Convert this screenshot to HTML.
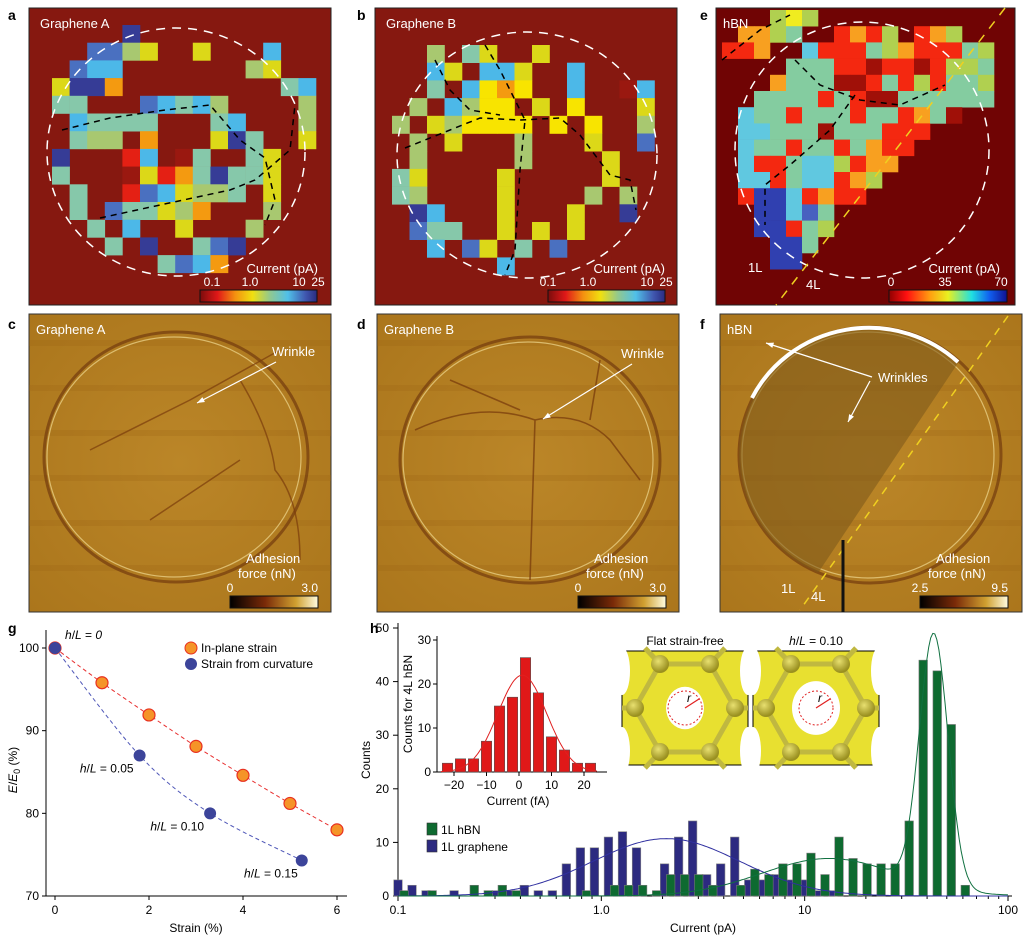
<!DOCTYPE html>
<html><head><meta charset="utf-8"><style>
html,body{margin:0;padding:0;background:#fff;}
svg{display:block;font-family:"Liberation Sans",Arial,sans-serif;}
</style></head><body>
<svg id="fig" width="1028" height="938" viewBox="0 0 1028 938">
<defs>
<linearGradient id="cbA" x1="0" x2="1"><stop offset="0" stop-color="#7a0c0c"/><stop offset="0.15" stop-color="#e01818"/><stop offset="0.3" stop-color="#f49010"/><stop offset="0.45" stop-color="#f0e010"/><stop offset="0.6" stop-color="#90c890"/><stop offset="0.75" stop-color="#50c0e8"/><stop offset="0.9" stop-color="#4058b0"/><stop offset="1" stop-color="#2a2a80"/></linearGradient>
<linearGradient id="cbE" x1="0" x2="1"><stop offset="0" stop-color="#900000"/><stop offset="0.15" stop-color="#ff1010"/><stop offset="0.35" stop-color="#ffa010"/><stop offset="0.5" stop-color="#e8f020"/><stop offset="0.7" stop-color="#20e0e0"/><stop offset="0.85" stop-color="#1060f0"/><stop offset="1" stop-color="#101090"/></linearGradient>
<linearGradient id="cbF" x1="0" x2="1"><stop offset="0" stop-color="#000"/><stop offset="0.4" stop-color="#7a2a08"/><stop offset="0.75" stop-color="#d0a030"/><stop offset="1" stop-color="#fffce0"/></linearGradient>
<radialGradient id="afm" cx="0.5" cy="0.5" r="0.7"><stop offset="0" stop-color="#bb8628"/><stop offset="1" stop-color="#ab761c"/></radialGradient>
<radialGradient id="atom" cx="0.4" cy="0.35" r="0.6"><stop offset="0" stop-color="#e8e070"/><stop offset="1" stop-color="#9a9020"/></radialGradient>
<clipPath id="fEll"><ellipse cx="870" cy="455" rx="131" ry="128"/></clipPath>
<clipPath id="fBox"><rect x="720" y="314" width="302" height="298"/></clipPath>
</defs>
<g id="panels"></g>
<g id="gchart"></g>
<g id="hchart"></g>
</svg>
<script>
// ---------- data: panel g ----------
const gInStrain = [0, 1, 2, 3, 4, 5, 6];
const gInE = [100, 95.8, 91.9, 88.1, 84.6, 81.2, 78.0];
const gCurvStrain = [0, 1.8, 3.3, 5.25];
const gCurvE = [100, 87.0, 80.0, 74.3];
const gCurvLabels = ["h/L = 0", "h/L = 0.05", "h/L = 0.10", "h/L = 0.15"];
const gXTicks = [0, 2, 4, 6];
const gYTicks = [70, 80, 90, 100];
// ---------- data: panel h ----------
const hBinStartLog = -1.0, hBinStepLog = 0.069;
const hGraphene = [3,2,1,0,1,0,0,1,1,2,1,1,6,9,9,11,12,9,0,6,11,14,4,6,11,3,3,4,3,3,1,1,0,0,0,0,0,0,0,0,0,0,0];
const hHBN = [1,0,1,0,0,2,1,2,1,0,0,0,0,1,0,2,2,2,1,4,4,4,2,0,2,5,4,6,6,8,4,11,7,6,6,6,14,44,42,32,2,0,0];
const hXTicks = [0.1, 1, 10, 100];
const hXTickLabels = ["0.1", "1.0", "10", "100"];
const hYTicks = [0, 10, 20, 30, 40, 50];
const fitGraphene = [10.7, 0.32, 0.36];
const fitHBN = [[7.0, 1.12, 0.33], [47, 1.635, 0.07]];
// inset
const insCenters = [-22,-18,-14,-10,-6,-2,2,6,10,14,18,22];
const insCounts = [2,3,3,7,15,17,26,18,8,5,2,2];
const insFit = [22, 1, 7.5];
const insXTicks = [-20,-10,0,10,20];
const insXTickLabels = ["\u221220","\u221210","0","10","20"];
const insYTicks = [0,10,20,30];

const NS = "http://www.w3.org/2000/svg";
function mk(tag, attrs, parent, text){
  const e = document.createElementNS(NS, tag);
  for (const k in attrs) e.setAttribute(k, attrs[k]);
  if (text !== undefined) e.textContent = text;
  parent.appendChild(e); return e;
}
const P = document.getElementById('panels');

// ---------- heatmaps ----------
const cmap = {b:'#363c96', m:'#4a70c0', c:'#4cb8e8', t:'#86c8aa', l:'#a8c870', y:'#dcd818', Y:'#f8e400', o:'#f49a10', r:'#e42014', d:'#9a1810', g:'#c8d030'};
const emap = {r:'#f42810', o:'#f8a020', y:'#f0ec20', t:'#84cca0', c:'#60c8e0', b:'#3040b0', m:'#4860c0', d:'#a01008', l:'#b0d050'};
const gridA = ["....b...........","..mmly..y...c...",".mcc.......ly...","ybbo.........tc.","tt...mctcl....l.",".ctttt...tc...l.",".tll.o...ybt..y.","b...rc.dt..ty...","t...dyrotbtty...",".t..rmcyllt.y...",".t.mttylo...l...","..t.c..y...l....","...t.b..tmb.....","......tmco......"];
const gridB = ["..l.ty..y......","..cy.ccy..c....","..t.cYoY..c..dc",".l.clYY.y.Y...y","l.ylYYYY.Y.Y..l",".l.y...l...y..m",".l.....l....y..","ty....y.....y..","tl....y....l.l.",".bc...y...y..b.",".mtt..y.y.y....","..c.my.t.m.....","......c........"];
const gridE = ["...lyl............",".oolt..rorl.rol...","rro..crrrtlorrrtl.","....tttrrdrrdrllt.","...otttddrtrlrttl.","..ttttrtrddtttttt.",".cttrtttrttrotd...",".cctttdtttrrr.....",".cttrttrtorr......",".crrtcclroo.......",".ccrtccrol........",".rbbcrorr.........","..bbcmt...........","..bbrtl...........","...bbt............","...bb............."];

function heat(x, y, w, h, bg, grid, cols, map, x0, y0, cw, ch, name){
  const g = mk('g', {}, P);
  
  
  mk('rect', {x:x, y:y, width:w, height:h, fill:bg, stroke:'#222', 'stroke-width':1}, g);
  grid.forEach((row, r) => { for (let c = 0; c < row.length; c++) { const k = row[c]; if (map[k]) {
    const cell = mk('rect', {x:x0 + c*cw, y:y0 + r*ch, width:cw + 0.3, height:ch + 0.3, fill:map[k]}, g);
    
    
  }}});
  return g;
}
const ga = heat(29, 8, 302, 297, '#861810', gridA, 16, cmap, 52, 25, 17.6, 17.7, 'heatmap-graphene-a');
mk('ellipse', {cx:176, cy:152, rx:129, ry:124, fill:'none', stroke:'#fff', 'stroke-width':1.5, 'stroke-dasharray':'9 7'}, ga);
mk('polyline', {points:'62,130 110,118 165,110 210,105 240,140 265,158 275,200 265,225', fill:'none', stroke:'#000', 'stroke-width':1.5, 'stroke-dasharray':'6 5'}, ga);
mk('polyline', {points:'100,218 160,205 230,190 255,180 290,150 295,105', fill:'none', stroke:'#000', 'stroke-width':1.5, 'stroke-dasharray':'6 5'}, ga);
const gb = heat(375, 8, 302, 297, '#861810', gridB, 15, cmap, 392, 45, 17.5, 17.7, 'heatmap-graphene-b');
mk('ellipse', {cx:527, cy:155, rx:130, ry:123, fill:'none', stroke:'#fff', 'stroke-width':1.5, 'stroke-dasharray':'9 7'}, gb);
mk('polyline', {points:'485,45 500,70 515,100 525,120 520,170 515,250 505,275', fill:'none', stroke:'#000', 'stroke-width':1.5, 'stroke-dasharray':'6 5'}, gb);
mk('polyline', {points:'405,148 450,130 480,118 520,120 560,118 580,135 610,175 630,180 636,210', fill:'none', stroke:'#000', 'stroke-width':1.5, 'stroke-dasharray':'6 5'}, gb);
mk('polyline', {points:'435,60 450,90 470,110 500,115', fill:'none', stroke:'#000', 'stroke-width':1.5, 'stroke-dasharray':'6 5'}, gb);
const ge = heat(716, 8, 299, 297, '#700404', gridE, 18, emap, 722, 10, 16, 16.2, 'heatmap-hbn');
mk('ellipse', {cx:862, cy:150, rx:127, ry:128, fill:'none', stroke:'#fff', 'stroke-width':1.5, 'stroke-dasharray':'9 7'}, ge);
mk('line', {x1:1005, y1:8, x2:776, y2:305, stroke:'#f0d020', 'stroke-width':1.5, 'stroke-dasharray':'9 8'}, ge);
mk('polyline', {points:'722,60 760,30 790,15', fill:'none', stroke:'#000', 'stroke-width':1.5, 'stroke-dasharray':'6 5'}, ge);
mk('polyline', {points:'795,60 820,85 860,100 900,105 945,85', fill:'none', stroke:'#000', 'stroke-width':1.5, 'stroke-dasharray':'6 5'}, ge);
mk('polyline', {points:'855,95 830,130 790,165 765,185 765,225', fill:'none', stroke:'#000', 'stroke-width':1.5, 'stroke-dasharray':'6 5'}, ge);

function cbar(x, y, w, fill, labels, g){
  mk('rect', {x:x, y:y, width:w, height:12, fill:'url(#'+fill+')', stroke:'#111', 'stroke-width':1}, g);
  labels.forEach(l => mk('text', {x:x + l[0], y:y - 4, 'font-size':12, fill:'#fff', 'text-anchor':'middle'}, g, l[1]));
}
cbar(200, 290, 117, 'cbA', [[12,'0.1'],[50,'1.0'],[99,'10'],[118,'25']], ga);
mk('text', {x:318, y:273, 'font-size':13, fill:'#fff', 'text-anchor':'end'}, ga, 'Current (pA)');
cbar(548, 290, 117, 'cbA', [[0,'0.1'],[40,'1.0'],[99,'10'],[118,'25']], gb);
mk('text', {x:665, y:273, 'font-size':13, fill:'#fff', 'text-anchor':'end'}, gb, 'Current (pA)');
cbar(889, 290, 118, 'cbE', [[2,'0'],[56,'35'],[112,'70']], ge);
mk('text', {x:1000, y:273, 'font-size':13, fill:'#fff', 'text-anchor':'end'}, ge, 'Current (pA)');
mk('text', {x:40, y:28, 'font-size':13, fill:'#fff'}, ga, 'Graphene A');
mk('text', {x:386, y:28, 'font-size':13, fill:'#fff'}, gb, 'Graphene B');
mk('text', {x:723, y:28, 'font-size':13, fill:'#fff'}, ge, 'hBN');
mk('text', {x:748, y:272, 'font-size':13, fill:'#fff'}, ge, '1L');
mk('text', {x:806, y:289, 'font-size':13, fill:'#fff'}, ge, '4L');

// ---------- AFM panels ----------
function afm(x, ell, name, label){
  const g = mk('g', {}, P);
  
  
  mk('rect', {x:x, y:314, width:302, height:298, fill:'url(#afm)', stroke:'#333', 'stroke-width':1}, g);
  for (let i = 0; i < 6; i++) mk('rect', {x:x, y:340 + i*45, width:302, height:6, fill:'#9a6414', opacity:0.25}, g);
  mk('ellipse', {cx:ell[0], cy:ell[1], rx:ell[2], ry:ell[3], fill:'none', stroke:'#7a4210', 'stroke-width':3, opacity:0.8}, g);
  mk('ellipse', {cx:ell[0]-2, cy:ell[1], rx:ell[2]-5, ry:ell[3]-5, fill:'none', stroke:'#f0d890', 'stroke-width':1.2, opacity:0.7}, g);
  mk('text', {x:x + 7, y:334, 'font-size':13, fill:'#fff'}, g, label);
  return g;
}
const gc = afm(29, [176, 457, 132, 125], 'afm-graphene-a', 'Graphene A');
mk('path', {d:'M90,450 L190,400 L280,350 M150,520 L240,460 M240,380 Q270,430 275,470 Q300,500 300,560', fill:'none', stroke:'#7a3c0c', 'stroke-width':1.5, opacity:0.7}, gc);
const gd = afm(377, [530, 460, 130, 123], 'afm-graphene-b', 'Graphene B');
mk('path', {d:'M415,430 Q480,400 535,420 Q580,410 610,440 L640,480 M535,420 L530,580 M450,380 L520,410 M600,360 L590,420', fill:'none', stroke:'#7a3c0c', 'stroke-width':1.6, opacity:0.75}, gd);
const gf = afm(720, [870, 455, 131, 128], 'afm-hbn', 'hBN');
const fin = mk('g', {'clip-path':'url(#fEll)'}, gf);
mk('polygon', {points:'700,300 1000,300 800,600 700,600', fill:'#7e5a1a', opacity:0.6}, fin);
const fb2 = mk('g', {'clip-path':'url(#fBox)'}, gf);
mk('path', {d:'M752,398 A131,128 0 0 1 958,362', fill:'none', stroke:'#fff', 'stroke-width':4}, fb2);
mk('line', {x1:1008, y1:316, x2:800, y2:610, stroke:'#f0d020', 'stroke-width':1.5, 'stroke-dasharray':'8 7'}, fb2);
mk('line', {x1:843, y1:540, x2:843, y2:612, stroke:'#111', 'stroke-width':3}, fb2);
function arrow(g, x1, y1, x2, y2){
  mk('line', {x1:x1, y1:y1, x2:x2, y2:y2, stroke:'#fff', 'stroke-width':1.2}, g);
  const a = Math.atan2(y2-y1, x2-x1), L = 8;
  mk('polygon', {points:`${x2},${y2} ${x2-L*Math.cos(a-0.35)},${y2-L*Math.sin(a-0.35)} ${x2-L*Math.cos(a+0.35)},${y2-L*Math.sin(a+0.35)}`, fill:'#fff'}, g);
}
mk('text', {x:272, y:356, 'font-size':13, fill:'#fff'}, gc, 'Wrinkle'); arrow(gc, 276, 362, 197, 403);
mk('text', {x:621, y:358, 'font-size':13, fill:'#fff'}, gd, 'Wrinkle'); arrow(gd, 632, 364, 543, 419);
mk('text', {x:878, y:382, 'font-size':13, fill:'#fff'}, gf, 'Wrinkles');
arrow(gf, 872, 377, 766, 343); arrow(gf, 870, 381, 848, 422);
mk('text', {x:781, y:593, 'font-size':13, fill:'#fff'}, gf, '1L');
mk('text', {x:811, y:601, 'font-size':13, fill:'#fff'}, gf, '4L');
[[gc, 230], [gd, 578], [gf, 920]].forEach((p, i) => {
  const g = p[0], x = p[1];
  mk('rect', {x:x, y:596, width:88, height:12, fill:'url(#cbF)', stroke:'#111'}, g);
  mk('text', {x:x + 16, y:563, 'font-size':13, fill:'#fff'}, g, 'Adhesion');
  mk('text', {x:x + 8, y:578, 'font-size':13, fill:'#fff'}, g, 'force (nN)');
  mk('text', {x:x, y:592, 'font-size':12, fill:'#fff', 'text-anchor':'middle'}, g, i < 2 ? '0' : '2.5');
  mk('text', {x:x + 88, y:592, 'font-size':12, fill:'#fff', 'text-anchor':'end'}, g, i < 2 ? '3.0' : '9.5');
});
[['a',8,20],['b',357,20],['e',700,20],['c',8,329],['d',357,329],['f',700,329],['g',8,633],['h',370,633]].forEach(l => {
  const t = mk('text', {x:l[1], y:l[2], 'font-size':14, 'font-weight':'bold', fill:'#000'}, P, l[0]);
  
  
});

// ---------- panel g chart ----------
const G = document.getElementById('gchart');
const gx = v => 55 + (v - 0) * (337 - 55) / 6;
const gy = v => 896 - (v - 70) * (896 - 648) / 30;
mk('line', {x1:46, y1:630, x2:46, y2:896, stroke:'#000', 'stroke-width':1}, G);
mk('line', {x1:46, y1:896, x2:347, y2:896, stroke:'#000', 'stroke-width':1}, G);
gXTicks.forEach(v => { mk('line', {x1:gx(v), y1:896, x2:gx(v), y2:900, stroke:'#000'}, G);
  const t = mk('text', {x:gx(v), y:914, 'font-size':12, 'text-anchor':'middle'}, G, String(v));
    });
gYTicks.forEach(v => { mk('line', {x1:42, y1:gy(v), x2:46, y2:gy(v), stroke:'#000'}, G);
  const t = mk('text', {x:39, y:gy(v) + 4, 'font-size':12, 'text-anchor':'end'}, G, String(v));
    });
const gxt = mk('text', {x:196, y:932, 'font-size':12, 'text-anchor':'middle'}, G, 'Strain (%)');
 
const gyt = mk('text', {x:0, y:0, 'font-size':12, 'text-anchor':'middle', transform:'translate(17,770) rotate(-90)'}, G);
 
gyt.innerHTML = '<tspan font-style="italic">E</tspan>/<tspan font-style="italic">E</tspan><tspan font-size="9" dy="3">0</tspan><tspan dy="-3"> (%)</tspan>';
function smooth(xs, ys){
  const pts = xs.map((x, i) => [gx(x), gy(ys[i])]);
  let d = 'M' + pts[0][0] + ',' + pts[0][1];
  for (let i = 0; i < pts.length - 1; i++) {
    const p0 = pts[Math.max(0, i-1)], p1 = pts[i], p2 = pts[i+1], p3 = pts[Math.min(pts.length-1, i+2)];
    d += ` C${p1[0]+(p2[0]-p0[0])/6},${p1[1]+(p2[1]-p0[1])/6} ${p2[0]-(p3[0]-p1[0])/6},${p2[1]-(p3[1]-p1[1])/6} ${p2[0]},${p2[1]}`;
  }
  return d;
}
const lr = mk('path', {d:smooth(gInStrain, gInE), fill:'none', stroke:'#e83030', 'stroke-width':1, 'stroke-dasharray':'4 3'}, G);
 
const lb = mk('path', {d:smooth(gCurvStrain, gCurvE), fill:'none', stroke:'#5058b8', 'stroke-width':1, 'stroke-dasharray':'4 3'}, G);
 
gInStrain.forEach((s, i) => { const c = mk('circle', {cx:gx(s), cy:gy(gInE[i]), r:6, fill:'#f59428', stroke:'#e83020', 'stroke-width':1.2}, G);
    });
gCurvStrain.forEach((s, i) => { const c = mk('circle', {cx:gx(s), cy:gy(gCurvE[i]), r:6, fill:'#3c449a'}, G);
    });
const lblOff = [[10,-9,'start'],[-6,17,'end'],[-6,17,'end'],[-4,17,'end']];
gCurvLabels.forEach((l, i) => {
  const t = mk('text', {x:gx(gCurvStrain[i]) + lblOff[i][0], y:gy(gCurvE[i]) + lblOff[i][1], 'font-size':12, 'text-anchor':lblOff[i][2]}, G);
  const val = l.split(' = ')[1];
  t.innerHTML = '<tspan font-style="italic">h</tspan>/<tspan font-style="italic">L</tspan> = ' + (i === 0 ? '<tspan font-style="italic">0</tspan>' : val);
   
});
[['#f59428','#e83020','In-plane strain',648],['#3c449a','none','Strain from curvature',664]].forEach(e => {
  const g = mk('g', {}, G);  
  mk('circle', {cx:191, cy:e[3], r:6, fill:e[0], stroke:e[1]}, g);
  mk('text', {x:201, y:e[3] + 4, 'font-size':12}, g, e[2]);
});

// ---------- panel h chart ----------
const H = document.getElementById('hchart');
const hx = v => 398 + (Math.log10(v) + 1) * (1008 - 398) / 3;
const hxl = l => 398 + (l + 1) * (1008 - 398) / 3;
const hy = v => 896 - v * (896 - 628) / 50;
mk('line', {x1:398, y1:623, x2:398, y2:896, stroke:'#000'}, H);
mk('line', {x1:398, y1:896, x2:1012, y2:896, stroke:'#000'}, H);
hYTicks.forEach(v => { mk('line', {x1:393, y1:hy(v), x2:398, y2:hy(v), stroke:'#000'}, H);
  const t = mk('text', {x:389, y:hy(v) + 4, 'font-size':12, 'text-anchor':'end'}, H, String(v));
    });
hXTicks.forEach((v, i) => { mk('line', {x1:hx(v), y1:896, x2:hx(v), y2:901, stroke:'#000'}, H);
  const t = mk('text', {x:hx(v), y:914, 'font-size':12, 'text-anchor':'middle'}, H, hXTickLabels[i]);
   
  if (i < 3) for (let m = 2; m < 10; m++) mk('line', {x1:hx(v*m), y1:896, x2:hx(v*m), y2:899, stroke:'#000'}, H); });
const hxt = mk('text', {x:703, y:932, 'font-size':12, 'text-anchor':'middle'}, H, 'Current (pA)');
 
const hyt = mk('text', {x:0, y:0, 'font-size':12, 'text-anchor':'middle', transform:'translate(370,760) rotate(-90)'}, H, 'Counts');
 
const bw = 0.042;
hGraphene.forEach((v, k) => { if (!v) return; const c = hBinStartLog + k*hBinStepLog;
  const r = mk('rect', {x:hxl(c - bw/2), y:hy(v), width:hxl(c+bw/2)-hxl(c-bw/2), height:hy(0)-hy(v), fill:'#2c2a80', stroke:'#888', 'stroke-width':0.6}, H);
    });
hHBN.forEach((v, k) => { if (!v) return; const c = hBinStartLog + k*hBinStepLog + 0.03;
  const r = mk('rect', {x:hxl(c - bw/2), y:hy(v), width:hxl(c+bw/2)-hxl(c-bw/2), height:hy(0)-hy(v), fill:'#0e6a30', stroke:'#777', 'stroke-width':0.6}, H);
    });
function gauss(p, l){ return p[0] * Math.exp(-0.5 * Math.pow((l - p[1]) / p[2], 2)); }
let dB = '', dG = '';
for (let l = -1; l <= 2.0001; l += 0.01) {
  dB += (dB ? 'L' : 'M') + hxl(l).toFixed(1) + ',' + hy(gauss(fitGraphene, l)).toFixed(1);
  dG += (dG ? 'L' : 'M') + hxl(l).toFixed(1) + ',' + hy(gauss(fitHBN[0], l) + gauss(fitHBN[1], l)).toFixed(1);
}
const fb = mk('path', {d:dB, fill:'none', stroke:'#3030a0', 'stroke-width':1}, H);
 
const fg = mk('path', {d:dG, fill:'none', stroke:'#107040', 'stroke-width':1}, H);
 
[['#0e6a30','1L hBN',834],['#2c2a80','1L graphene',851]].forEach(e => {
  const g = mk('g', {}, H);  
  mk('rect', {x:427, y:e[2] - 11, width:10, height:12, fill:e[0], stroke:'#333', 'stroke-width':0.6}, g);
  mk('text', {x:441, y:e[2], 'font-size':12}, g, e[1]);
});
// inset
const ix = v => 454 + (v + 20) * 3.25;
const iy = v => 772 - v * 132 / 30;
const I = mk('g', {}, H);  
mk('line', {x1:437, y1:636, x2:437, y2:772, stroke:'#000'}, I);
mk('line', {x1:437, y1:772, x2:607, y2:772, stroke:'#000'}, I);
insYTicks.forEach(v => { mk('line', {x1:433, y1:iy(v), x2:437, y2:iy(v), stroke:'#000'}, I);
  mk('text', {x:431, y:iy(v) + 4, 'font-size':12, 'text-anchor':'end'}, I, String(v)); });
insXTicks.forEach((v, i) => { mk('line', {x1:ix(v), y1:772, x2:ix(v), y2:776, stroke:'#000'}, I);
  mk('text', {x:ix(v), y:789, 'font-size':12, 'text-anchor':'middle'}, I, insXTickLabels[i]); });
mk('text', {x:518, y:805, 'font-size':12, 'text-anchor':'middle'}, I, 'Current (fA)');
mk('text', {x:0, y:0, 'font-size':12, 'text-anchor':'middle', transform:'translate(412,704) rotate(-90)'}, I, 'Counts for 4L hBN');
insCounts.forEach((v, i) => { const c = insCenters[i];
  const r = mk('rect', {x:ix(c - 1.6), y:iy(v), width:ix(c+1.6)-ix(c-1.6), height:iy(0)-iy(v), fill:'#e01818', stroke:'#555', 'stroke-width':0.6}, I);
    });
let dI = '';
for (let v = -24; v <= 24; v += 0.5) dI += (dI ? 'L' : 'M') + ix(v).toFixed(1) + ',' + iy(insFit[0]*Math.exp(-0.5*Math.pow((v-insFit[1])/insFit[2],2))).toFixed(1);
mk('path', {d:dI, fill:'none', stroke:'#e02020', 'stroke-width':1}, I);
function lattice(x, y, rr, title){
  const g = mk('g', {}, H);  
  mk('rect', {x:x, y:y, width:126, height:114, fill:'#e8e030', stroke:'#000'}, g);
  const cx = x + 63, cy = y + 57;
  [[0,20],[126,20],[0,100],[126,100]].forEach(p => mk('ellipse', {cx:x+p[0], cy:y+p[1], rx:8, ry:24, fill:'#fff'}, g));
  const atoms = [[-25,-44],[25,-44],[50,0],[25,44],[-25,44],[-50,0]];
  mk('polygon', {points:atoms.map(a => (cx+a[0]) + ',' + (cy+a[1])).join(' '), fill:'none', stroke:'#c0b840', 'stroke-width':5}, g);
  [[-25,-44,-40,-60],[25,-44,40,-60],[-25,44,-40,60],[25,44,40,60],[-50,0,-63,0],[50,0,63,0]].forEach(l => mk('line', {x1:cx+l[0], y1:cy+l[1], x2:cx+l[2], y2:cy+l[3], stroke:'#c0b840', 'stroke-width':5}, g));
  atoms.forEach(a => mk('circle', {cx:cx+a[0], cy:cy+a[1], r:9, fill:'url(#atom)'}, g));
  mk('ellipse', {cx:cx, cy:cy, rx:rr, ry:rr*1.12, fill:'#fff'}, g);
  mk('circle', {cx:cx, cy:cy, r:17, fill:'none', stroke:'#e02020', 'stroke-dasharray':'2 2'}, g);
  mk('line', {x1:cx, y1:cy, x2:cx + 14, y2:cy - 9, stroke:'#e02020', 'stroke-width':1.2}, g);
  mk('text', {x:cx + 2, y:cy - 6, 'font-size':12, 'font-style':'italic'}, g, 'r');
  const t = mk('text', {x:cx, y:y - 6, 'font-size':12, 'text-anchor':'middle'}, g);
  t.innerHTML = title;
}
lattice(622, 651, 19, 'Flat strain-free');
lattice(753, 651, 24, '<tspan font-style="italic">h</tspan>/<tspan font-style="italic">L</tspan> = 0.10');
</script>
</body></html>
